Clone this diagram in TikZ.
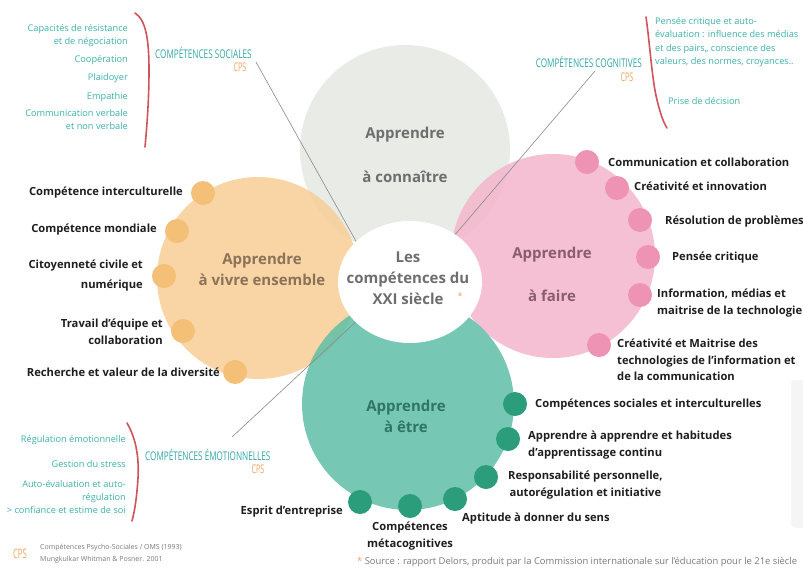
\documentclass[tikz,border=0pt]{standalone}
\usepackage{fontspec}
\setmainfont{Open Sans}
\usepackage{graphicx}
\usetikzlibrary{shapes.geometric}
\definecolor{grayC}{HTML}{E4E8E2}
\definecolor{orC}{HTML}{F8CE96}
\definecolor{orDot}{HTML}{F4BF76}
\definecolor{pkC}{HTML}{F4B6CC}
\definecolor{pkDot}{HTML}{EF93B5}
\definecolor{tlC}{HTML}{5FBFA8}
\definecolor{tlDot}{HTML}{2C9D7B}
\definecolor{labC}{HTML}{1E1E1E}
\definecolor{smT}{HTML}{3DB1AC}
\definecolor{headC}{HTML}{33A6AA}
\definecolor{cpsC}{HTML}{F2A35E}
\definecolor{brkC}{HTML}{D0545C}
\definecolor{lineC}{HTML}{8A8A8A}
\definecolor{grayT}{HTML}{6E6E6E}
\definecolor{orT}{HTML}{8C7258}
\definecolor{pkT}{HTML}{8A5D6C}
\definecolor{tlT}{HTML}{2F7567}
\definecolor{footC}{HTML}{7A7A7A}
\begin{document}
\begin{tikzpicture}[x=1pt,y=-1pt,
  big/.style={circle, inner sep=0pt, draw=none, fill opacity=0.85},
  dotO/.style={circle, inner sep=0pt, minimum size=24pt, fill=orDot},
  dotP/.style={circle, inner sep=0pt, minimum size=24pt, fill=pkDot},
  dotT/.style={circle, inner sep=0pt, minimum size=24pt, fill=tlDot},
  lab/.style={font=\fontsize{11.2}{16.5}\selectfont\bfseries, text=labC, inner sep=0pt},
  labR/.style={lab, anchor=east, align=right},
  labL/.style={lab, anchor=west, align=left},
  ttl/.style={font=\fontsize{15}{21}\selectfont\bfseries, inner sep=0pt, align=center},
  sm/.style={font=\fontsize{9.2}{13}\selectfont, text=smT, inner sep=0pt},
  smR/.style={sm, anchor=east, align=right},
  smL/.style={sm, anchor=west, align=left},
  head/.style={font=\fontsize{12}{12}\selectfont, text=headC, inner sep=0pt},
  cps/.style={font=\fontsize{12}{12}\selectfont, text=cpsC, inner sep=0pt},
  brk/.style={draw=brkC, line width=1.6pt, line cap=round},
  con/.style={draw=lineC, line width=0.6pt},
  foot/.style={font=\fontsize{7}{12}\selectfont, text=footC, inner sep=0pt, anchor=west, align=left}
]
\useasboundingbox (0,0) rectangle (803,570);
\fill[white] (0,0) rectangle (803,570);

% big circles
\node[big, fill=grayC, minimum size=210pt] (know) at (405,150) {};
\node[big, fill=orC, minimum size=202pt] (live) at (258,278) {};
\node[big, fill=pkC, minimum size=204pt] (do) at (553,256) {};
\node[big, fill=tlC, minimum size=212pt] (be) at (408,404) {};

% connectors
\coordinate (socEnd) at (362,252);
\coordinate (cogEnd) at (453,237);
\coordinate (emoEnd) at (362,316);
\coordinate (socStart) at (256,62);
\coordinate (cogStart) at (595,71);
\coordinate (emoStart) at (232,437);
\draw[con] (socStart) -- (socEnd);
\draw[con] (cogStart) -- (cogEnd);
\draw[con] (emoStart) -- (emoEnd);

% center
\node[ellipse, fill=white, inner sep=0pt, minimum width=144pt, minimum height=122pt] (core) at (410,282) {};
\node[ttl, text=grayT, font=\fontsize{15}{21}\selectfont\bfseries] (coreT) at (408,278) {Les\\compétences du\\XXI siècle};
\node[inner sep=0pt, text=cpsC, font=\fontsize{9}{9}\selectfont] (ast) at (460,296) {*};

% titles
\node[ttl, text=grayT] (knowA) at (405,135) {Apprendre};
\node[ttl, text=grayT] (knowB) at (405,177) {à connaître};
\node[ttl, text=orT] (liveT) at (262,269) {Apprendre\\à vivre ensemble};
\node[ttl, text=pkT] (doA) at (552,255) {Apprendre};
\node[ttl, text=pkT] (doB) at (552,296) {à faire};
\node[ttl, text=tlT] (beT) at (406,416) {Apprendre\\à être};

% orange dots and labels
\node[dotO] (o1) at (203,193) {};
\node[dotO] (o2) at (177,231) {};
\node[dotO] (o3) at (164,276) {};
\node[dotO] (o4) at (183,331) {};
\node[dotO] (o5) at (235,372) {};
\node[labR] (ol1) at (183,193) {Compétence interculturelle};
\node[labR] (ol2) at (157,230) {Compétence mondiale};
\node[labR, font=\fontsize{11.2}{20}\selectfont\bfseries] (ol3) at (143,276) {Citoyenneté civile et\\numérique};
\node[labR] (ol4) at (163,332) {Travail d'équipe et\\collaboration};
\node[labR] (ol5) at (220,372) {Recherche et valeur de la diversité};

% pink dots and labels
\node[dotP] (p1) at (587,162) {};
\node[dotP] (p2) at (617,188) {};
\node[dotP] (p3) at (640,220) {};
\node[dotP] (p4) at (648,257) {};
\node[dotP] (p5) at (640,295) {};
\node[dotP] (p6) at (599,345) {};
\node[labL] (pl1) at (608,162) {Communication et collaboration};
\node[labL] (pl2) at (634,186) {Créativité et innovation};
\node[labL] (pl3) at (665,222) {Résolution de problèmes};
\node[labL] (pl4) at (672,258) {Pensée critique};
\node[labL] (pl5) at (657,303) {Information, médias et\\maitrise de la technologie};
\node[labL] (pl6) at (617,360) {Créativité et Maitrise des\\technologies de l'information et\\de la communication};

% teal dots and labels
\node[dotT] (t1) at (515,404) {};
\node[dotT] (t2) at (508,439) {};
\node[dotT] (t3) at (486,477) {};
\node[dotT] (t4) at (455,499) {};
\node[dotT] (t5) at (410,506) {};
\node[dotT] (t6) at (360,502) {};
\node[labL] (tl1) at (535,405) {Compétences sociales et interculturelles};
\node[labL] (tl2) at (528,445) {Apprendre à apprendre et habitudes\\d'apprentissage continu};
\node[labL, align=center] (tl3) at (508,485) {Responsabilité personnelle,\\autorégulation et initiative};
\node[labL] (tl4) at (462,519) {Aptitude à donner du sens};
\node[lab, align=center] (tl5) at (410,536) {Compétences\\métacognitives};
\node[labR] (tl6) at (343,512) {Esprit d'entreprise};

% social skills (top left)
\node[smR] (s1) at (128,36) {Capacités de résistance\\et de négociation};
\node[smR] (s2) at (128,60) {Coopération};
\node[smR] (s3) at (128,78) {Plaidoyer};
\node[smR] (s4) at (128,97) {Empathie};
\node[smR] (s5) at (128,120) {Communication verbale\\et non verbale};
\draw[brk] (135,13) .. controls (146,20) and (149,40) .. (149,70) .. controls (149,100) and (147,125) .. (145,147);
\node[head, anchor=west] (socH) at (155,53) {\scalebox{0.68}[1]{COMPÉTENCES SOCIALES}};
\node[cps] (socC) at (240,67) {\scalebox{0.6}[1]{CPS}};

% cognitive skills (top right)
\node[head, anchor=east] (cogH) at (642,62) {\scalebox{0.68}[1]{COMPÉTENCES COGNITIVES}};
\node[cps] (cogC) at (627,77) {\scalebox{0.6}[1]{CPS}};
\draw[brk] (646,17) .. controls (650,45) and (652,80) .. (657,100) .. controls (660,112) and (663,122) .. (667,128);
\node[smL, font=\fontsize{9.2}{13.4}\selectfont] (c1) at (655,42) {Pensée critique et auto-\\évaluation : influence des médias\\et des pairs,, conscience des\\valeurs, des normes, croyances..};
\node[smL] (c2) at (668,101) {Prise de décision};

% emotional skills (bottom left)
\node[smR] (e1) at (126,440) {Régulation émotionnelle};
\node[smR] (e2) at (126,464) {Gestion du stress};
\node[smR] (e3) at (126,497) {Auto-évaluation et auto-\\régulation\\> confiance et estime de soi};
\draw[brk] (127,423) .. controls (137,440) and (139,460) .. (138,478) .. controls (137,495) and (135,510) .. (132,521);
\node[head, anchor=west] (emoH) at (145,455) {\scalebox{0.68}[1]{COMPÉTENCES ÉMOTIONNELLES}};
\node[cps] (emoC) at (258,469) {\scalebox{0.6}[1]{CPS}};

% footer
\node[cps, font=\fontsize{13}{13}\selectfont] (fC) at (20,554) {\scalebox{0.6}[1]{CPS}};
\node[foot] (f1) at (40,554) {Compétences Psycho-Sociales / OMS (1993)\\Mungkulkar Whitman \& Posner. 2001};
\node[foot, font=\fontsize{9.4}{10}\selectfont, anchor=west] (src) at (357,562) {\textcolor{cpsC}{*} Source : rapport Delors, produit par la Commission internationale sur l'éducation pour le 21e siècle};

% watermark strip
\node[draw=none, fill=black!4, rounded corners=4pt, minimum width=16pt, minimum height=148pt, inner sep=0pt] (wm) at (799,454) {};
\end{tikzpicture}
\end{document}
